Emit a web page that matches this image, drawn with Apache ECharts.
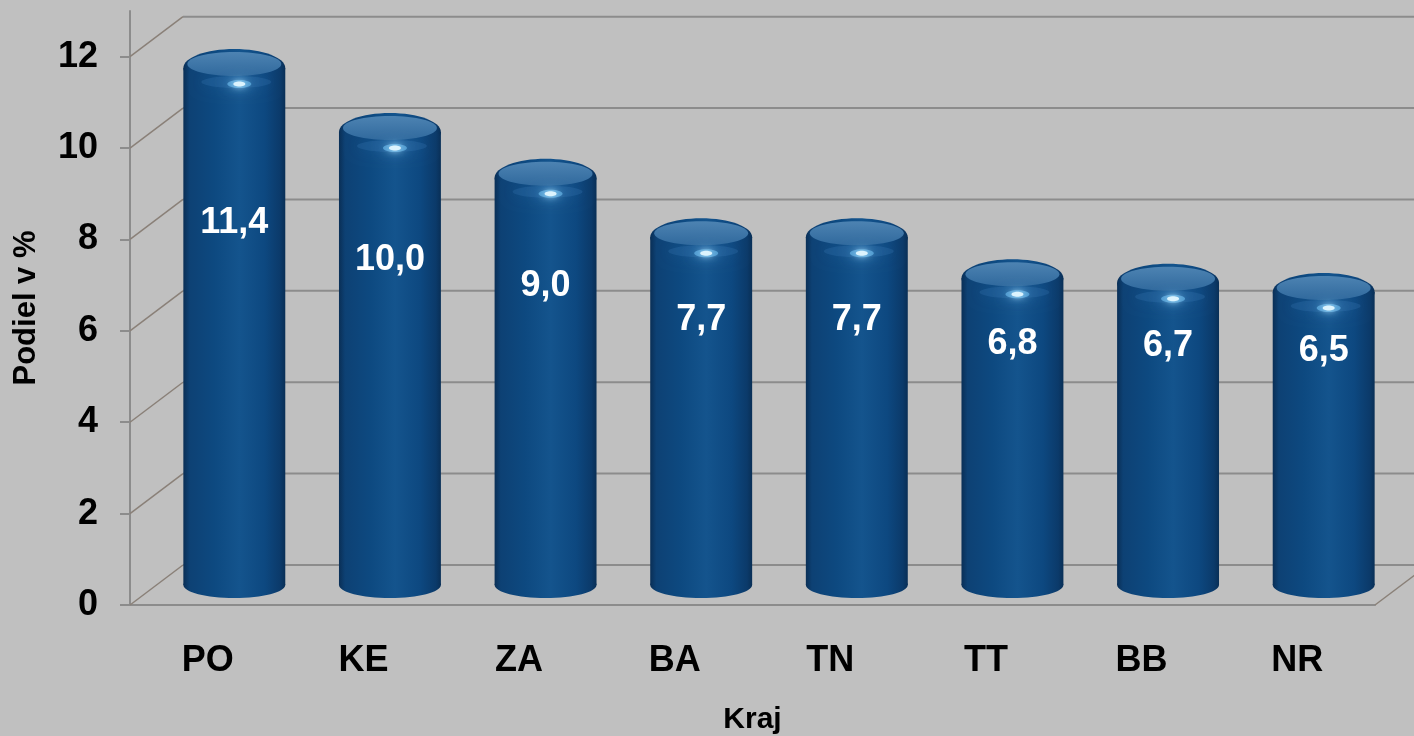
<!DOCTYPE html>
<html>
<head>
<meta charset="utf-8">
<title>Podiel v % podla kraja</title>
<script src="https://cdn.jsdelivr.net/npm/echarts@6/dist/echarts.min.js"></script>
<style>
html,body{margin:0;padding:0;background:#c0c0c0;}
#chart{width:1414px;height:736px;}
</style>
</head>
<body>
<div id="chart"></div>
<script>
var kraje = ['PO', 'KE', 'ZA', 'BA', 'TN', 'TT', 'BB', 'NR'];
var podiel = [11.4, 10.0, 9.0, 7.7, 7.7, 6.8, 6.7, 6.5];
var yTicks = [0, 2, 4, 6, 8, 10, 12];

var FONT = 'Arial, "Liberation Sans", sans-serif';
// 3d depth of the floor (back wall offset from the front axis)
var DX = 53, DY = -40;

var chart = echarts.init(document.getElementById('chart'));

function wallItem(params, api) {
	var v = api.value(0);
	var cs = params.coordSys;
	var p = api.coord([0, v]);
	var x0 = cs.x, x1 = cs.x + cs.width;
	var y = p[1];
	var line = {stroke: '#8c8c8c', lineWidth: 2};
	var diag = {stroke: '#8a8078', lineWidth: 1.5};
	var children = [
		{type: 'line', shape: {x1: x0, y1: y, x2: x0 + DX, y2: y + DY}, style: diag},
		{type: 'line', shape: {x1: x0 + DX, y1: y + DY, x2: 1414, y2: y + DY}, style: line}
	];
	if (v === 0) {
		children.push({type: 'line', shape: {x1: x1, y1: y, x2: x1 + DX, y2: y + DY}, style: diag});
	}
	return {type: 'group', children: children};
}

function cylItem(params, api) {
	var idx = api.value(0);
	var v = api.value(1);
	var top = api.coord([idx, v]);
	var base = api.coord([idx, 0]);
	var w = api.size([1, 0])[0] * 0.655;
	var cx = top[0] + DX / 2;
	var yt = top[1] + DY / 2;
	var yb = base[1] + DY / 2;
	var rx = w / 2, ry = 12;
	var body = new echarts.graphic.LinearGradient(0, 0, 1, 0, [
		{offset: 0, color: '#0a2f56'},
		{offset: 0.06, color: '#0d4174'},
		{offset: 0.3, color: '#0d4980'},
		{offset: 0.55, color: '#14548d'},
		{offset: 0.8, color: '#0d4880'},
		{offset: 0.95, color: '#0b3a6a'},
		{offset: 1, color: '#092f56'}
	]);
	var lab = api.coord([idx, v * 0.574 + 1.38]);
	return {
		type: 'group',
		children: [
			{type: 'ellipse', shape: {cx: cx, cy: yb, rx: rx, ry: ry + 1}, style: {fill: body}},
			{type: 'rect', shape: {x: cx - rx, y: yt + 4, width: w, height: yb - yt - 4}, style: {fill: body}},
			// rounded shoulder under the lid
			{type: 'ellipse', shape: {cx: cx, cy: yt + 4, rx: rx, ry: ry + 7}, style: {fill: body}},
			{type: 'ellipse', shape: {cx: cx + 2, cy: yt + ry + 6, rx: rx - 16, ry: 6}, style: {
				fill: 'rgba(60,125,185,0.25)', shadowBlur: 14, shadowColor: 'rgba(60,125,185,0.7)'
			}},
			{type: 'ellipse', shape: {cx: cx, cy: yt, rx: rx - 4, ry: ry}, style: {
				fill: new echarts.graphic.LinearGradient(0, 0, 0, 1, [
					{offset: 0, color: '#4d83b2'},
					{offset: 1, color: '#30699d'}
				])
			}},
			{type: 'ellipse', shape: {cx: cx + 5, cy: yt + ry + 8, rx: 12, ry: 4}, style: {
				fill: 'rgba(110,190,240,0.6)', shadowBlur: 12, shadowColor: 'rgba(110,190,240,0.9)'
			}},
			{type: 'ellipse', shape: {cx: cx + 5, cy: yt + ry + 8, rx: 6, ry: 2.5}, style: {
				fill: 'rgba(225,247,255,0.95)', shadowBlur: 6, shadowColor: 'rgba(190,235,255,1)'
			}},
			{type: 'text', x: cx, y: lab[1] + DY / 2, style: {
				text: v.toFixed(1).replace('.', ','),
				fill: '#ffffff', font: 'bold 36px ' + FONT,
				align: 'center', verticalAlign: 'middle'
			}}
		]
	};
}

var option = {
	backgroundColor: '#c0c0c0',
	animation: false,
	grid: {left: 130, right: 39, top: 11, bottom: 131, outerBoundsMode: 'none'},
	xAxis: {
		type: 'category',
		data: kraje,
		name: 'Kraj',
		nameLocation: 'middle',
		nameGap: 100,
		nameTextStyle: {color: '#000', fontFamily: FONT, fontWeight: 'bold', fontSize: 30},
		axisLine: {lineStyle: {color: '#8c8c8c', width: 2}},
		axisTick: {show: false},
		axisLabel: {color: '#000', fontFamily: FONT, fontWeight: 'bold', fontSize: 36, margin: 38}
	},
	yAxis: {
		type: 'value',
		min: 0,
		max: 13,
		interval: 2,
		name: 'Podiel v %',
		nameLocation: 'middle',
		nameGap: 88,
		nameTextStyle: {color: '#000', fontFamily: FONT, fontWeight: 'bold', fontSize: 31},
		axisLine: {show: true, lineStyle: {color: '#8c8c8c', width: 2}},
		axisTick: {show: true, length: 10, lineStyle: {color: '#8c8c8c', width: 2}},
		axisLabel: {color: '#000', fontFamily: FONT, fontWeight: 'bold', fontSize: 36, margin: 32, showMaxLabel: false},
		splitLine: {show: false}
	},
	series: [{
		type: 'custom',
		renderItem: wallItem,
		data: yTicks.map(function (t) { return [t]; }),
		encode: {y: 0},
		silent: true,
		z: 1
	}, {
		type: 'custom',
		renderItem: cylItem,
		data: podiel.map(function (v, i) { return [i, v]; }),
		encode: {x: 0, y: 1},
		z: 5
	}]
};
chart.setOption(option);
</script>
</body>
</html>
